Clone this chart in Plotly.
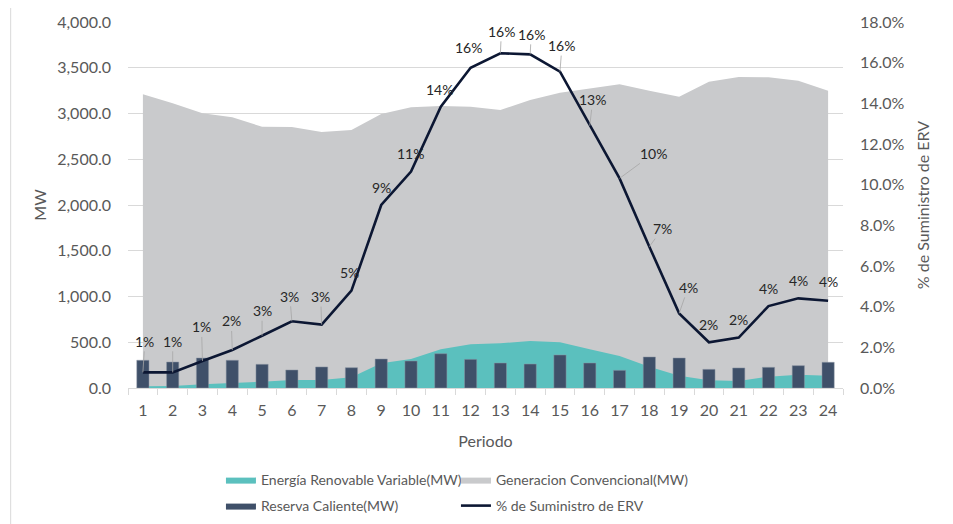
import plotly.graph_objects as go

periodos = [str(i) for i in range(1, 25)]

# Generación convencional (borde superior del área gris, MW)
gen_convencional = [3210, 3111, 3002, 2958, 2856, 2852, 2798, 2820, 2995, 3068, 3082, 3074,
                    3038, 3148, 3227, 3275, 3319, 3249, 3184, 3348, 3399, 3396, 3359, 3249]
# Energía renovable variable (MW)
erv = [20, 22, 40, 51, 69, 87, 87, 117, 270, 317, 423, 477,
       488, 514, 499, 423, 350, 233, 135, 84, 77, 124, 146, 135]
# Reserva caliente (MW)
reserva = [303, 284, 328, 303, 259, 197, 230, 222, 317, 295, 375, 313,
           273, 262, 361, 273, 193, 339, 328, 204, 219, 226, 244, 281]
# % de suministro de ERV (fracción)
pct_erv = [0.0077, 0.0077, 0.0133, 0.0187, 0.0257, 0.0328, 0.0312, 0.0479, 0.0900, 0.1064, 0.1384, 0.1575,
           0.1646, 0.1641, 0.1556, 0.1290, 0.1031, 0.0695, 0.0367, 0.0225, 0.0248, 0.0403, 0.0441, 0.0429]

# label placement offsets (pixels) and leader-line flags
label_dx = [2, 0, -1, -1, 0, -2, -1, -2, 0, -1, -1, -2, 1, 1, 2, 3, 34, 13, 9, 0, 0, 0, 0, 0]
label_dy = [-31, -31, -34, -29, -25, -25, -28, -18, -18, -18, -17, -20, -22, -20, -26, -26, -25, -18, -26, -18, -18, -18, -18, -19]
leader = [1, 1, 1, 1, 1, 1, 1, 0, 0, 0, 0, 0, 1, 1, 1, 1, 1, 1, 1, 0, 0, 0, 0, 0]

FONT = "Lato"
TXT = "#595959"
C_GEN, C_ERV, C_RES, C_LINE = "#C9CACC", "#5BC0BE", "#3F5069", "#0C1733"

fig = go.Figure()
fig.add_trace(go.Scatter(x=periodos, y=gen_convencional, name="Generacion Convencional(MW)",
                         mode="lines", line=dict(width=0, color=C_GEN), fill="tozeroy",
                         fillcolor=C_GEN, legend="legend", legendrank=2))
fig.add_trace(go.Scatter(x=periodos, y=erv, name="Energía Renovable Variable(MW)",
                         mode="lines", line=dict(width=0, color=C_ERV), fill="tozeroy",
                         fillcolor=C_ERV, legend="legend", legendrank=1))
fig.add_trace(go.Bar(x=periodos, y=reserva, name="Reserva Caliente(MW)", width=0.41, yaxis="y2",
                     marker=dict(color=C_RES, line=dict(color="#8D97A5", width=0.5)),
                     showlegend=False))
# legend swatch for the bars (rectangular, like the reference)
fig.add_trace(go.Scatter(x=[None], y=[None], name="Reserva Caliente(MW)", yaxis="y2",
                         mode="lines", line=dict(width=0, color=C_RES), fill="tozeroy",
                         fillcolor=C_RES, legend="legend2", legendrank=3))
fig.add_trace(go.Scatter(x=periodos, y=pct_erv, name="% de Suministro de ERV", yaxis="y3",
                         mode="lines", line=dict(color=C_LINE, width=2.6),
                         legend="legend2", legendrank=4))

for i, v in enumerate(pct_erv):
    fig.add_annotation(x=i, y=v, xref="x", yref="y3", text=f"{round(v * 100)}%",
                       showarrow=True, arrowhead=0, arrowwidth=0.8,
                       arrowcolor="#A6A6A6" if leader[i] else "rgba(0,0,0,0)",
                       ax=label_dx[i], ay=label_dy[i], standoff=0,
                       font=dict(family=FONT, size=14, color="#262626"))

# outer chart border
fig.add_shape(type="rect", xref="paper", yref="paper", x0=-0.1641, x1=1.1469, y0=-0.40, y1=1.0484,
              line=dict(color="#D9D9D9", width=1), fillcolor="rgba(0,0,0,0)", layer="below")

legend_common = dict(orientation="h", x=0.130, xanchor="left", yanchor="middle",
                     entrywidth=190, entrywidthmode="pixels", font=dict(size=14, color=TXT),
                     traceorder="normal", itemwidth=30, bgcolor="rgba(0,0,0,0)")

fig.update_layout(
    width=953, height=524,
    margin=dict(l=120, r=118, t=14, b=144, autoexpand=False),
    paper_bgcolor="white", plot_bgcolor="white",
    font=dict(family=FONT, color=TXT, size=16),
    showlegend=True,
    legend=dict(y=-0.2514, **legend_common),
    legend2=dict(y=-0.3224, **legend_common),
    xaxis=dict(type="category", showgrid=False, showline=True, linecolor="#D9D9D9",
               ticks="outside", tickson="boundaries", ticklen=6, tickcolor="#D9D9D9",
               tickfont=dict(size=16, color=TXT), ticklabelstandoff=8, automargin=False,
               title=dict(text="Periodo", font=dict(size=16, color=TXT), standoff=17)),
    yaxis=dict(range=[0, 4000], dtick=500, tickformat=",.1f", showgrid=True,
               gridcolor="#D9D9D9", zeroline=False, showline=False, automargin=False,
               tickfont=dict(size=16, color=TXT), ticklabelstandoff=16,
               title=dict(text="MW", font=dict(size=16, color=TXT), standoff=6)),
    yaxis2=dict(range=[0, 4000], overlaying="y", visible=False, automargin=False),
    yaxis3=dict(range=[0, 0.18], dtick=0.02, tickformat=".1%", overlaying="y", side="right",
                showgrid=False, zeroline=False, showline=False, automargin=False,
                tickfont=dict(size=16, color=TXT), ticklabelstandoff=16,
                title=dict(text="% de Suministro de ERV", font=dict(size=16, color=TXT), standoff=14)),
)

fig.write_html("out.html")
